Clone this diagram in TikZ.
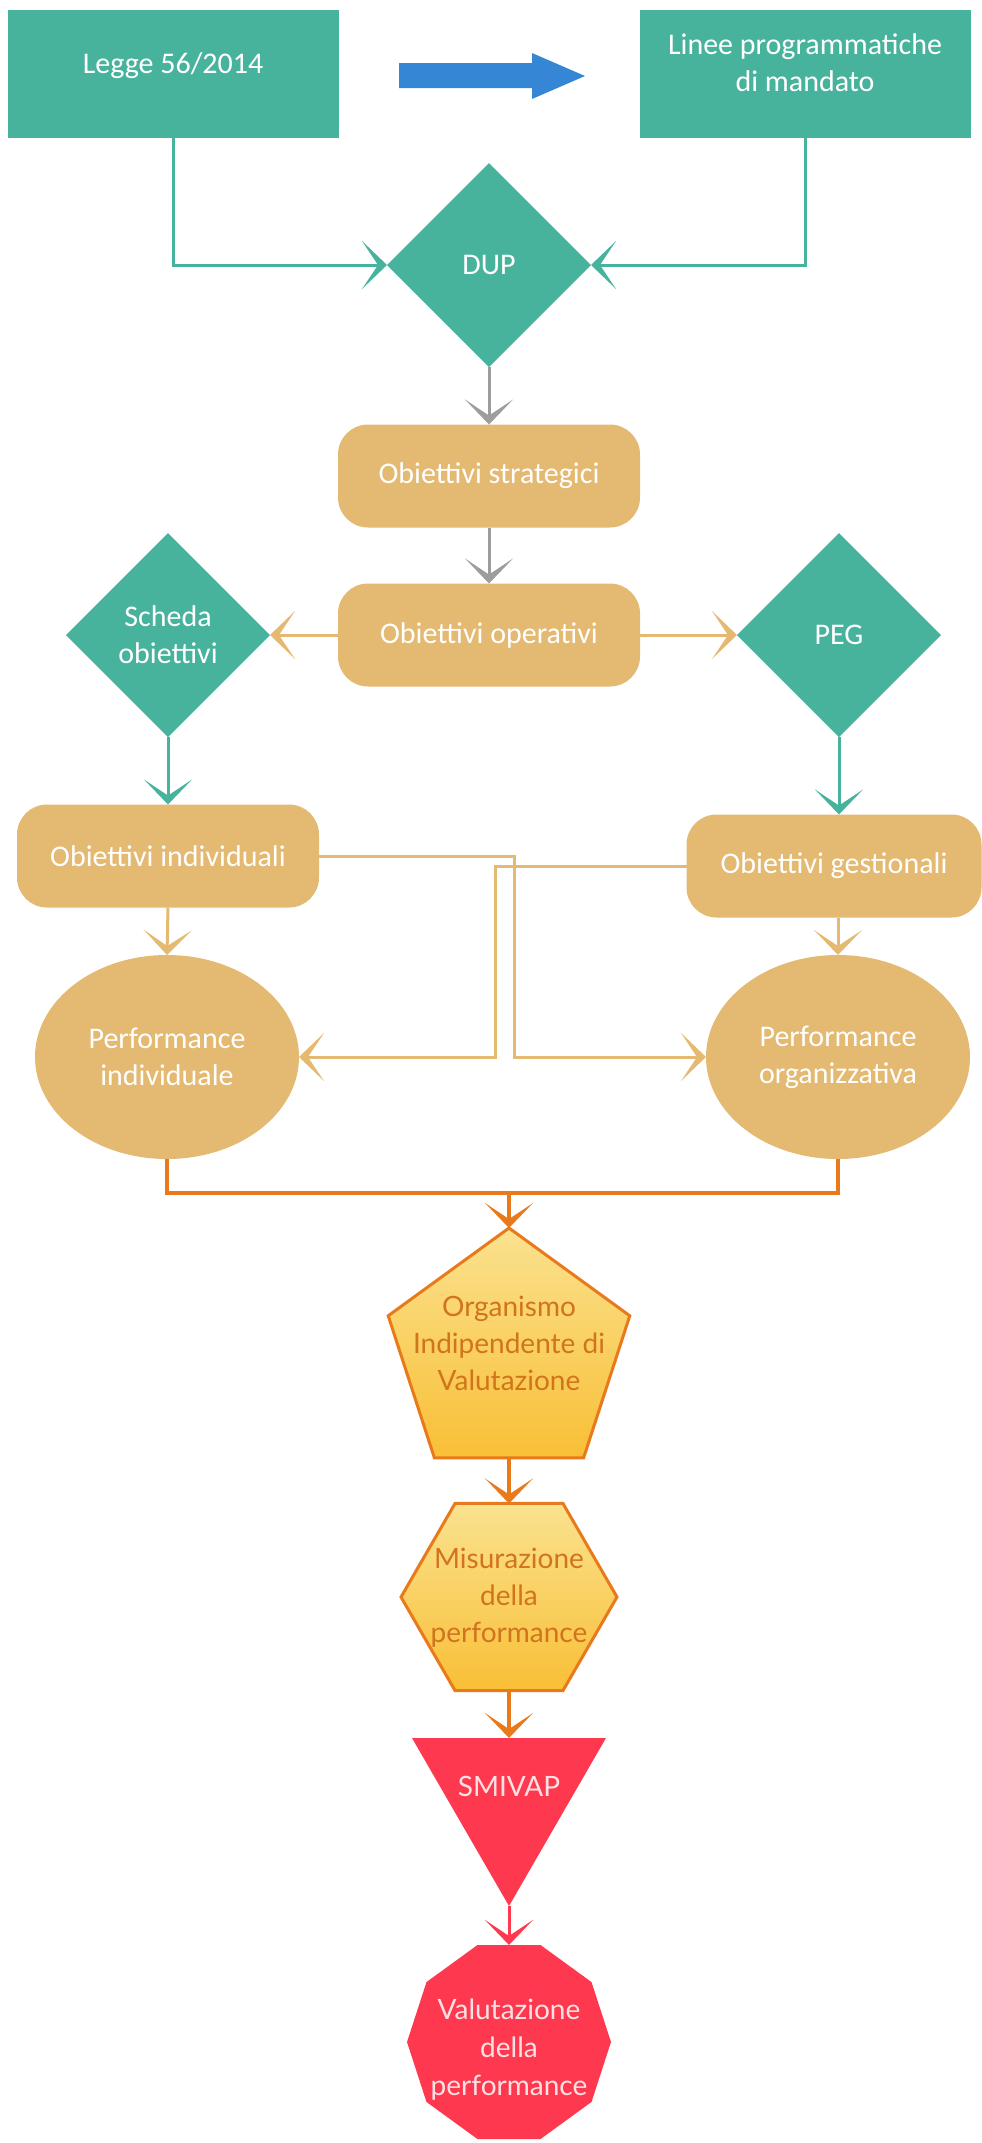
\documentclass[tikz,border=0pt]{standalone}
\usepackage{fontspec}
\setmainfont{Carlito}
\newfontfamily\latofont{Lato}
\usetikzlibrary{positioning,arrows.meta,shapes.geometric}

\definecolor{dupteal}{HTML}{48B39C}
\definecolor{obtan}{HTML}{E4B971}
\definecolor{arrgray}{HTML}{9D9D9D}
\definecolor{arrblue}{HTML}{3686D6}
\definecolor{oivorange}{HTML}{E87A1B}
\definecolor{oivtext}{HTML}{D2731D}
\definecolor{oivtop}{HTML}{FAE28F}
\definecolor{oivbottom}{HTML}{F9BF36}
\definecolor{smred}{HTML}{FE394F}
\definecolor{smtext}{HTML}{FFE1E4}

\tikzset{
  >={Stealth[length=12.5pt,width=24pt,inset=8pt]},
  upfont/.style={font=\fontsize{15pt}{18.5pt}\selectfont},
  box/.style={rectangle, fill=dupteal, text=white, upfont, text depth=11pt,
    minimum width=165.5pt, minimum height=64pt},
  choice/.style={diamond, aspect=1, fill=dupteal, text=white, upfont,
    minimum width=102pt, minimum height=102pt},
  pill/.style={rectangle, rounded corners=15pt, fill=obtan, text=white, upfont,
    minimum width=151pt, minimum height=51.5pt},
  perf/.style={ellipse, fill=obtan, text=white, upfont,
    minimum width=132pt, minimum height=102pt},
  evalbox/.style={regular polygon, top color=oivtop, bottom color=oivbottom,
    draw=oivorange, line width=1.5pt},
  redbox/.style={regular polygon, fill=smred},
  evaltext/.style={text=oivtext, font=\latofont\fontsize{14pt}{18.5pt}\selectfont},
  redtext/.style={text=smtext, font=\latofont\fontsize{14pt}{19pt}\selectfont},
  tealline/.style={draw=dupteal, line width=1.5pt},
  grayline/.style={draw=arrgray, line width=1.5pt},
  tanline/.style={draw=obtan, line width=1.5pt},
  orline/.style={draw=oivorange, line width=2pt},
  redline/.style={draw=smred, line width=1.5pt},
}

\begin{document}
\begin{tikzpicture}[x=0.5pt, y=-0.5pt,
  every node/.style={inner sep=0pt, outer sep=0pt, align=center}]
\useasboundingbox (0,0) rectangle (981,2143);

% sources
\node[box] (legge) at (173,74) {Legge 56/2014};
\node[box] (linee) at (805,74) {Linee programmatiche\\di mandato};
\fill[arrblue] (399,63) -- (532,63) -- (532,53) -- (585,76) -- (532,99)
  -- (532,88) -- (399,88) -- cycle;

% planning
\node[choice] (dup) at (489,265) {DUP};
\node[pill] (strat) at (489,476) {Obiettivi strategici};
\node[pill] (oper) at (489,635) {Obiettivi operativi};
\node[choice] (scheda) at (168,635) {Scheda\\obiettivi};
\node[choice] (peg) at (839,635) {PEG};
\node[pill] (indiv) at (168,856) {Obiettivi individuali};
\node[pill, minimum width=147.5pt] (gest) at (834,866) {Obiettivi gestionali};
\node[perf] (pind) at (167,1057) {Performance\\individuale};
\node[perf] (porg) at (838,1057) {Performance\\organizzativa};
\coordinate (xl) at (495,0);
\coordinate (xr) at (514,0);
\coordinate (join) at (509,1193);

% evaluation
\node[evalbox, regular polygon sides=5, minimum size=127pt] (oiv) at (509,1355) {};
\node[evaltext] (oivlbl) at (509,1343) {Organismo\\Indipendente di\\Valutazione};
\node[evalbox, regular polygon sides=6, minimum size=108pt] (mis) at (509,1597) {};
\node[evaltext] (mislbl) at (509,1598) {Misurazione\\della\\performance};
\node[redbox, regular polygon sides=3, shape border rotate=180,
  minimum size=112pt] (smv) at (509,1794) {};
\node[redtext] (smvlbl) at (509,1786) {SMIVAP};
\node[redbox, regular polygon sides=10, minimum size=102pt] (val) at (509,2042) {};
\node[redtext] (vallbl) at (509,2050) {Valutazione\\della\\performance};

% connectors
\draw[tealline,->] (legge.south) |- (dup.west);
\draw[tealline,->] (linee.south) |- (dup.east);
\draw[grayline,->] (dup.south) -- (strat.north);
\draw[grayline,->] (strat.south) -- (oper.north);
\draw[tanline,->] (oper.west) -- (scheda.east);
\draw[tanline,->] (oper.east) -- (peg.west);
\draw[tealline,->] (scheda.south) -- (indiv.north);
\draw[tealline,->] (peg.south) -- (peg.south |- gest.north);
\draw[tanline,->] (indiv.south) -- (pind.north);
\draw[tanline,->] (porg.north |- gest.south) -- (porg.north);
\draw[tanline,->] (indiv.east) -- (indiv.east -| xr) |- (porg.west);
\draw[tanline,->] (gest.west) -- (gest.west -| xl) |- (pind.east);
\draw[orline] (pind.south) |- (join) -| (porg.south);
\draw[orline,->] (join) -- (oiv);
\draw[orline,->] (oiv) -- (mis);
\draw[orline,->] (mis) -- (smv);
\draw[redline,->] (smv) -- (val);
\end{tikzpicture}
\end{document}
